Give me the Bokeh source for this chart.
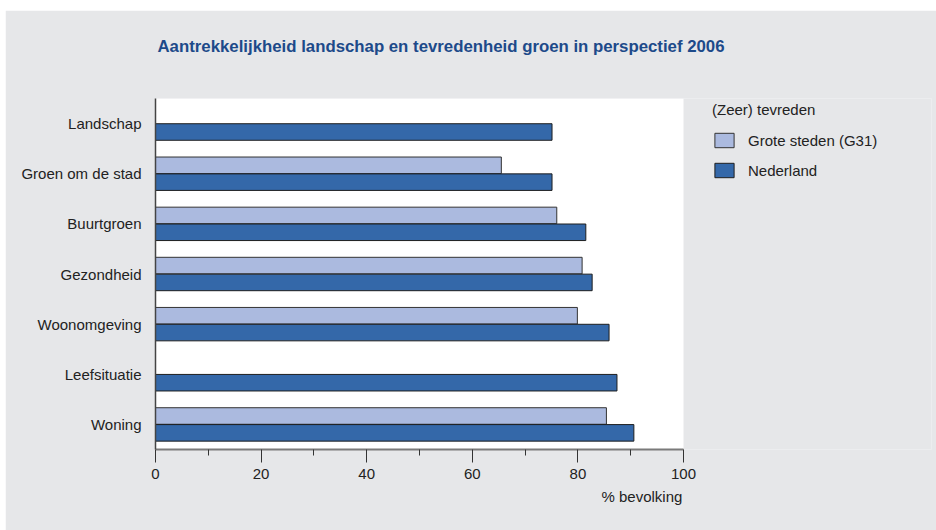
from bokeh.plotting import figure
from bokeh.models import (ColumnDataSource, FactorRange, Range1d, FixedTicker, Legend,
                          LegendItem, Title, BoxAnnotation)
from bokeh.transform import dodge
from bokeh.embed import file_html
from bokeh.resources import INLINE

categories = ["Landschap", "Groen om de stad", "Buurtgroen", "Gezondheid",
              "Woonomgeving", "Leefsituatie", "Woning"]
g31 = [float("nan"), 65.5, 76.0, 80.8, 79.9, float("nan"), 85.4]
nederland = [75.1, 75.1, 81.5, 82.7, 85.9, 87.4, 90.6]
x_ticks = [0, 20, 40, 60, 80, 100]
x_minor = [10, 30, 50, 70, 90]
x_max = 100

title_text = "Aantrekkelijkheid landschap en tevredenheid groen in perspectief 2006"
legend_title = "(Zeer) tevreden"
series_names = ["Grote steden (G31)", "Nederland"]
x_label = "% bevolking"

FONT = "Liberation Sans"
BG = "#e6e7e9"
LIGHT = "#abbadf"
DARK = "#3468a9"
TXT = "#222222"

# layout (pixels)
W, H = 931, 520
LEFT, RIGHT, TOP, BOTTOM = 150, 5, 88, 81
PLOT_W = 528            # width of the white plotting area
frame_w = W - LEFT - RIGHT

src = ColumnDataSource(dict(cat=categories, g31=g31, nl=nederland))

p = figure(width=W, height=H, output_backend="svg", toolbar_location=None,
           y_range=FactorRange(factors=list(reversed(categories))),
           x_range=Range1d(0, x_max * frame_w / PLOT_W),
           min_border_left=LEFT, min_border_right=RIGHT, min_border_top=TOP,
           min_border_bottom=BOTTOM)
p.styles = {"margin-top": "10px", "margin-left": "5px"}
p.background_fill_color = BG
p.border_fill_color = BG
p.outline_line_color = None
p.xgrid.visible = False
p.ygrid.visible = False

p.add_layout(BoxAnnotation(left=0, right=x_max, fill_color="white", fill_alpha=1,
                           line_color=None, level="underlay"))

r1 = p.hbar(y=dodge("cat", 0.168, range=p.y_range), right="g31", left=0, height=0.33,
            source=src, fill_color=LIGHT, line_color="#333333", line_width=1)
r2 = p.hbar(y=dodge("cat", -0.168, range=p.y_range), right="nl", left=0, height=0.33,
            source=src, fill_color=DARK, line_color="#1e1e1e", line_width=1)

xa = p.xaxis[0]
xa.ticker = FixedTicker(ticks=x_ticks, minor_ticks=x_minor)
xa.bounds = (0, x_max)
xa.axis_line_color = "#7a7a7a"
xa.axis_line_width = 2
xa.major_tick_in = 0
xa.major_tick_out = 13
xa.minor_tick_in = 0
xa.minor_tick_out = 6
xa.major_tick_line_color = "#333333"
xa.minor_tick_line_color = "#333333"
xa.major_label_standoff = 6
xa.major_label_text_font = FONT
xa.major_label_text_font_size = "15px"
xa.major_label_text_color = TXT

ya = p.yaxis[0]
ya.axis_line_color = "#444444"
ya.axis_line_width = 1.5
ya.major_tick_line_color = None
ya.minor_tick_line_color = None
ya.major_label_standoff = 8
ya.major_label_text_font = FONT
ya.major_label_text_font_size = "15px"
ya.major_label_text_color = TXT

# trailing empty line lifts the title higher above the plot area
p.title.text = title_text + "\n"
p.title.align = "left"
p.title.offset = 2
p.title.standoff = 48
p.title.text_font = FONT
p.title.text_font_size = "16.8px"
p.title.text_font_style = "bold"
p.title.text_color = "#1d4a8a"

p.add_layout(Title(text=x_label, align="left", offset=446, text_font=FONT,
                   text_font_size="15px", text_font_style="normal", text_color=TXT,
                   standoff=8), "below")

legend = Legend(items=[LegendItem(label=series_names[0], renderers=[r1]),
                       LegendItem(label=series_names[1], renderers=[r2])],
                location=(557, 270), title=legend_title)
legend.title_text_font = FONT
legend.title_text_font_size = "15px"
legend.title_text_font_style = "normal"
legend.title_text_color = TXT
legend.title_standoff = 13
legend.label_text_font = FONT
legend.label_text_font_size = "15px"
legend.label_text_color = TXT
legend.glyph_width = 24
legend.glyph_height = 18
legend.label_height = 18
legend.label_standoff = 12
legend.spacing = 12
legend.padding = 0
legend.margin = 0
legend.border_line_color = None
legend.background_fill_alpha = 0
p.add_layout(legend)

open("out.html", "w").write(file_html(p, INLINE))
